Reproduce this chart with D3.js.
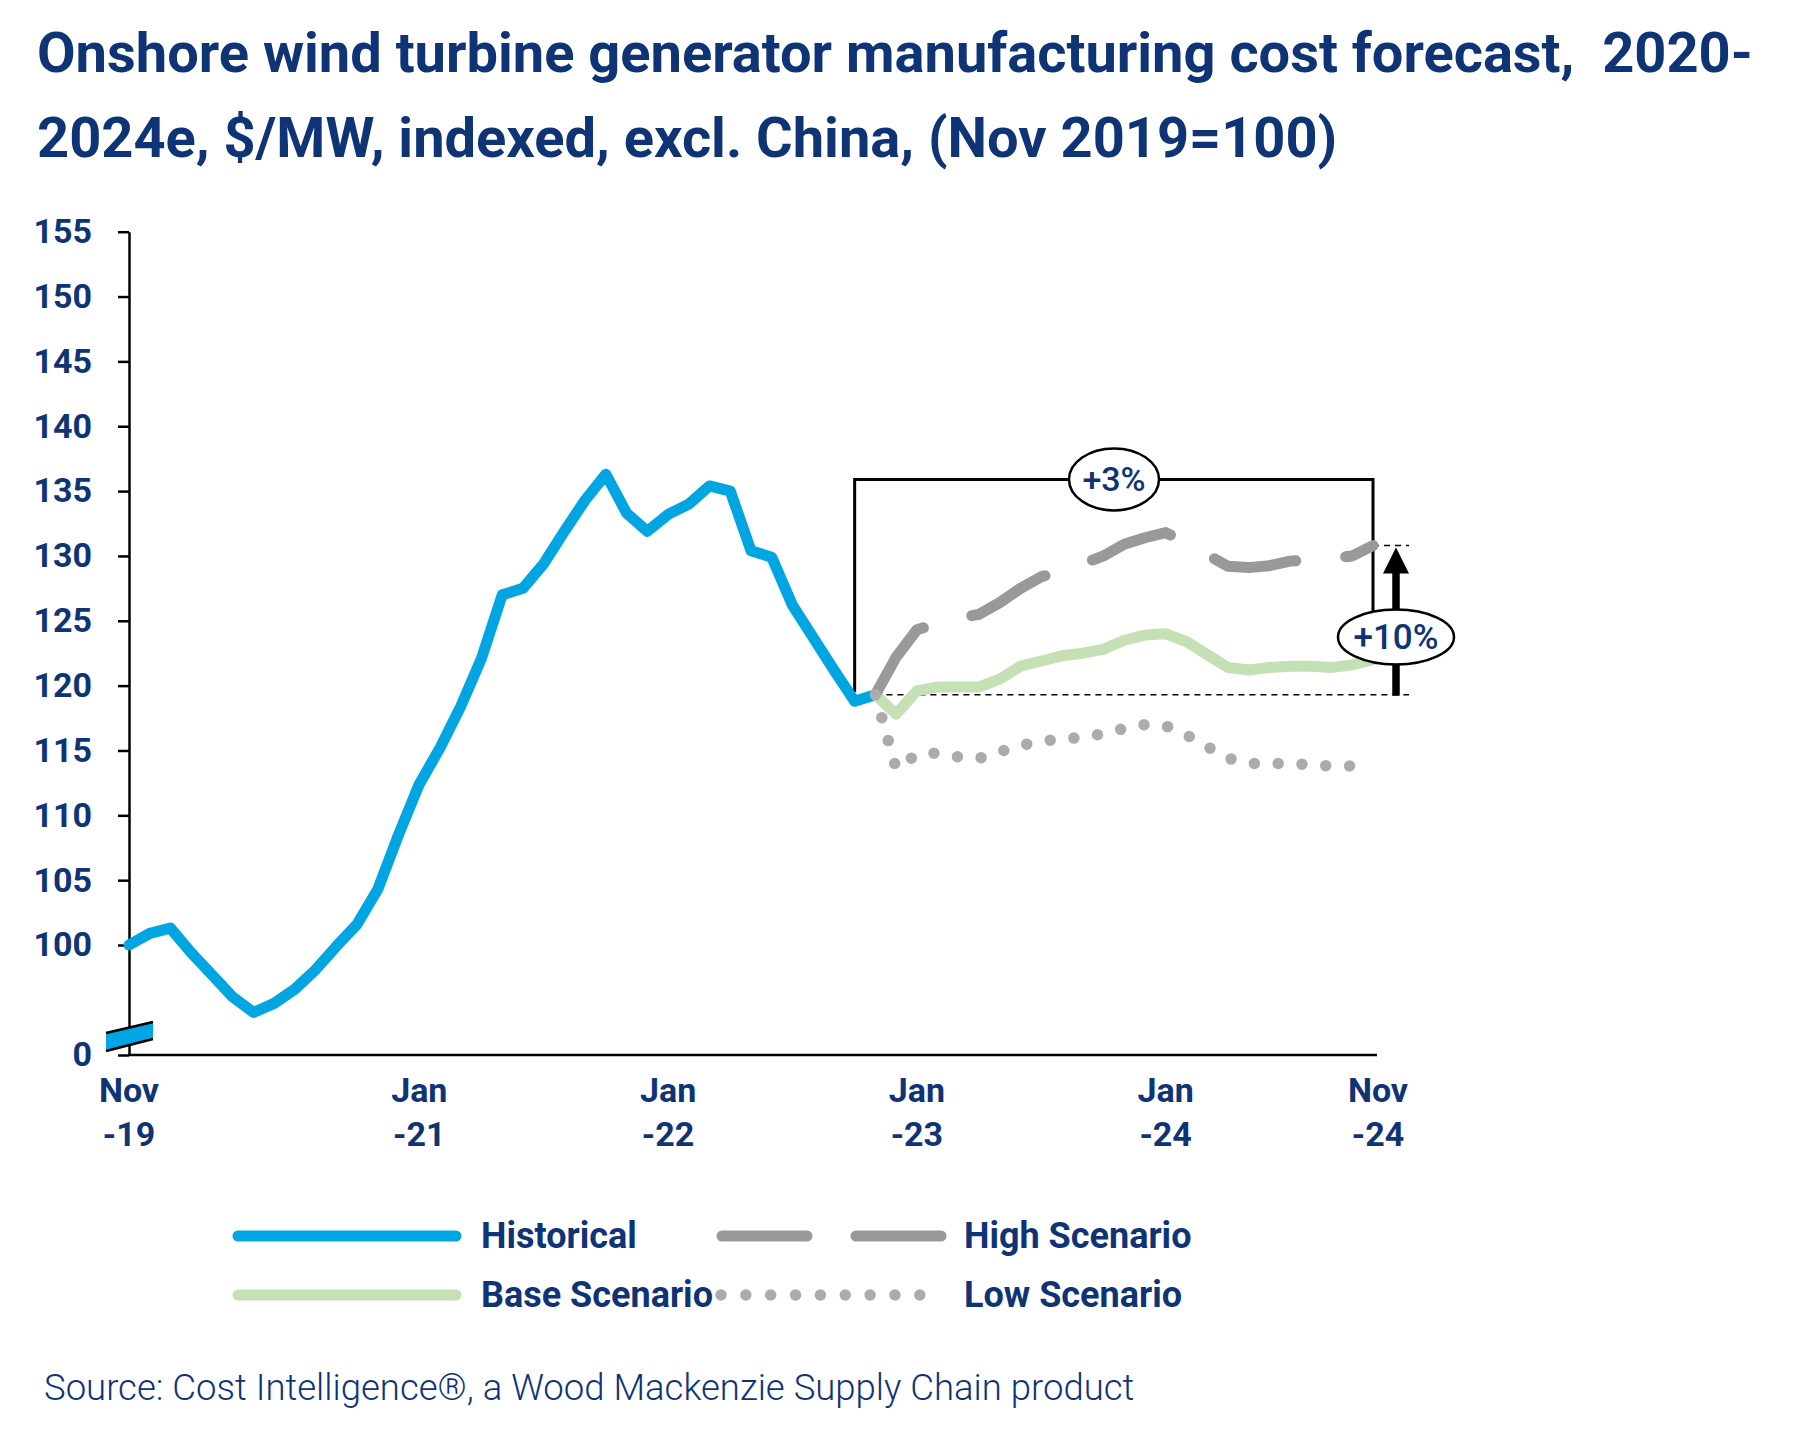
<!DOCTYPE html>
<html><head><meta charset="utf-8">
<script src="https://cdn.jsdelivr.net/npm/d3@7"></script>
<style>body{margin:0;background:#fff} svg{display:block}</style>
</head><body>
<svg id="c" width="1800" height="1434"></svg>
<script>
const titleLines = [
  "Onshore wind turbine generator manufacturing cost forecast,  2020-",
  "2024e, $/MW, indexed, excl. China, (Nov 2019=100)"
];
// monthly index, month 0 = Nov 2019
const historical = [100, 100.9, 101.3, 99.4, 97.7, 96.0, 94.8, 95.5, 96.6, 98.1, 99.9, 101.6,
  104.3, 108.5, 112.4, 115.2, 118.4, 122.1, 127.0, 127.5, 129.4, 131.9, 134.3, 136.3,
  133.3, 131.9, 133.2, 134.0, 135.4, 135.0, 130.4, 129.9, 126.2, 123.7, 121.2, 118.8, 119.3];
const forecastStart = 36; // Nov 2022
const baseScenario = [119.3, 117.8, 119.6, 119.9, 119.9, 119.9, 120.5, 121.5, 121.9, 122.3, 122.5, 122.8,
  123.5, 123.9, 124.0, 123.4, 122.4, 121.4, 121.2, 121.4, 121.5, 121.5, 121.4, 121.6, 122.0];
const highScenario = [119.3, 122.2, 124.3, 124.8, 125.2, 125.5, 126.4, 127.5, 128.4, 128.8, 129.4, 130.0,
  130.9, 131.4, 131.8, 131.0, 130.1, 129.2, 129.1, 129.25, 129.6, 129.7, 129.8, 130.0, 130.8];
const lowScenario = [119.3, 113.6, 114.7, 114.8, 114.5, 114.4, 114.9, 115.4, 115.7, 115.9, 116.0, 116.3,
  116.7, 117.0, 116.9, 116.2, 115.3, 114.4, 114.0, 114.0, 114.0, 113.9, 113.8, 113.8, 114.1];
const xTickMonths = [0, 14, 26, 38, 50, 60];
const xTickLabels = [["Nov","-19"],["Jan","-21"],["Jan","-22"],["Jan","-23"],["Jan","-24"],["Nov","-24"]];
const yTickValues = [100,105,110,115,120,125,130,135,140,145,150,155];
const yBreakLabel = "0";
const legendItems = ["Historical", "High Scenario", "Base Scenario", "Low Scenario"];
const annotationLabels = ["+3%", "+10%"];
const sourceText = "Source: Cost Intelligence®, a Wood Mackenzie Supply Chain product";

const navy = "#0f3476";
const cBlue = "#00a5e2", cBase = "#c6e0b5", cHigh = "#999999", cLow = "#ababab";
const font = "Roboto, 'Noto Sans', sans-serif";

const svg = d3.select("#c");
svg.append("rect").attr("width",1800).attr("height",1434).attr("fill","#fff");

// title
svg.append("g").selectAll("text").data(titleLines).join("text")
  .attr("x", 37).attr("y", (d,i) => 72 + i*85)
  .style("white-space","pre").attr("xml:space","preserve")
  .attr("font-family", font).attr("font-weight", 700).attr("font-size", 56)
  .attr("fill", navy).text(d => d);

const yBottomValue = 91.52; // axis break: bottom of axis shown as "0"
const x = d3.scaleLinear().domain([0, 60]).range([129, 1373]);
const y = d3.scaleLinear().domain([yBottomValue, 155]).range([1055, 231.7]);

// y axis
const yAxis = d3.axisLeft(y).tickValues([yBottomValue].concat(yTickValues))
  .tickFormat(d => d < 100 ? yBreakLabel : d).tickSize(11).tickSizeOuter(0).tickPadding(26);
const gy = svg.append("g").attr("transform", `translate(${x(0)},0)`).call(yAxis);
gy.select(".domain").attr("stroke","#000").attr("stroke-width",2.5);
gy.selectAll(".tick line").attr("stroke","#000").attr("stroke-width",2.5);
gy.selectAll(".tick text").attr("font-family", font).attr("font-weight",700)
  .attr("font-size",34).attr("fill",navy);

// x axis
const xAxis = d3.axisBottom(x).tickValues(xTickMonths).tickSize(0).tickSizeOuter(0).tickFormat("");
const gx = svg.append("g").attr("transform", `translate(0,${y(yBottomValue)})`).call(xAxis);
gx.select(".domain").attr("stroke","#000").attr("stroke-width",2.5)
  .attr("d", `M${x(0)},0H${x(60) + 4}`);
const xl = svg.append("g").selectAll("text").data(xTickMonths).join("text")
  .attr("x", d => x(d)).attr("text-anchor","middle")
  .attr("font-family", font).attr("font-weight",700).attr("font-size",34).attr("fill",navy);
xl.append("tspan").attr("x", (d,i) => x(d) + (i === xTickMonths.length-1 ? 5 : 0)).attr("y", 1102).text((d,i) => xTickLabels[i][0]);
xl.append("tspan").attr("x", (d,i) => x(d) + (i === xTickMonths.length-1 ? 5 : 0)).attr("y", 1146).text((d,i) => xTickLabels[i][1]);

// axis break symbol
const bx0 = x(0) - 23, bx1 = x(0) + 24;
svg.append("path").attr("d", `M${bx0},1033 L${bx1},1022 L${bx1},1039 L${bx0},1051 Z`)
  .attr("fill", cBlue);
svg.append("path").attr("d", `M${bx0},1033 L${bx1},1022 M${bx0},1051 L${bx1},1039`)
  .attr("stroke","#000").attr("stroke-width",2.5).attr("fill","none");

const line = d3.line().x(d => x(d[0])).y(d => y(d[1]));
const pts = (arr, off) => arr.map((v,i) => [i + off, v]);

// reference dashed lines
const hiEnd = highScenario[highScenario.length-1];
svg.append("line").attr("x1", x(forecastStart)).attr("x2", x(60) + 36)
  .attr("y1", y(historical[forecastStart])).attr("y2", y(historical[forecastStart]))
  .attr("stroke","#000").attr("stroke-width",1.6).attr("stroke-dasharray","6,5");
svg.append("line").attr("x1", x(60)).attr("x2", x(60) + 36)
  .attr("y1", y(hiEnd)).attr("y2", y(hiEnd))
  .attr("stroke","#000").attr("stroke-width",1.6).attr("stroke-dasharray","6,5");

// bracket (+3%)
const bracketTop = 135.9;
svg.append("path")
  .attr("d", `M${x(35)},${y(119.5)} L${x(35)},${y(bracketTop)} L${x(60)},${y(bracketTop)} L${x(60)},${y(baseScenario[baseScenario.length-1])}`)
  .attr("fill","none").attr("stroke","#000").attr("stroke-width",3);

// historical
svg.append("path").datum(pts(historical,0)).attr("d", line)
  .attr("fill","none").attr("stroke",cBlue).attr("stroke-width",11)
  .attr("stroke-linejoin","round").attr("stroke-linecap","round");
// base
svg.append("path").datum(pts(baseScenario,forecastStart)).attr("d", line)
  .attr("fill","none").attr("stroke",cBase).attr("stroke-width",11)
  .attr("stroke-linejoin","round").attr("stroke-linecap","round");
// high
svg.append("path").datum(pts(highScenario,forecastStart)).attr("d", line)
  .attr("fill","none").attr("stroke",cHigh).attr("stroke-width",11)
  .attr("stroke-linejoin","round").attr("stroke-linecap","round").attr("stroke-dasharray","84,50");
// low (dots spaced evenly so that one lands on the end point)
const lowPath = svg.append("path").datum(pts(lowScenario,forecastStart)).attr("d", line)
  .attr("fill","none").attr("stroke",cLow).attr("stroke-width",11.5)
  .attr("stroke-linecap","round");
const lowLen = lowPath.node().getTotalLength();
const lowGap = lowLen / Math.round(lowLen / 24);
lowPath.attr("stroke-dasharray", `0,${lowGap}`);

// arrow (+10%)
const ax = x(60) + 23;
svg.append("line").attr("x1", ax).attr("x2", ax)
  .attr("y1", y(historical[forecastStart]) + 1).attr("y2", y(hiEnd) + 24)
  .attr("stroke","#000").attr("stroke-width",7.5);
svg.append("path").attr("d", `M${ax},${y(hiEnd)+2} L${ax+13},${y(hiEnd)+28} L${ax-13},${y(hiEnd)+28} Z`)
  .attr("fill","#000");

// ellipses
const ann = [
  {cx: 1114, cy: y(bracketTop), rx: 45, ry: 31, size: 34, label: annotationLabels[0]},
  {cx: ax, cy: 637, rx: 58, ry: 27.5, size: 35, label: annotationLabels[1]}
];
const ga = svg.append("g").selectAll("g").data(ann).join("g");
ga.append("ellipse").attr("cx", d => d.cx).attr("cy", d => d.cy).attr("rx", d => d.rx).attr("ry", d => d.ry)
  .attr("fill","#fff").attr("stroke","#000").attr("stroke-width",2.5);
ga.append("text").attr("x", d => d.cx).attr("y", d => d.cy + 12).attr("text-anchor","middle")
  .attr("font-family", font).attr("font-weight",500).attr("font-size", d => d.size).attr("fill",navy)
  .text(d => d.label);

// legend
const lg = svg.append("g");
const rows = [1236, 1295];
lg.append("line").attr("x1",238).attr("x2",456).attr("y1",rows[0]).attr("y2",rows[0])
  .attr("stroke",cBlue).attr("stroke-width",11).attr("stroke-linecap","round");
lg.append("line").attr("x1",722).attr("x2",941).attr("y1",rows[0]).attr("y2",rows[0])
  .attr("stroke",cHigh).attr("stroke-width",11).attr("stroke-linecap","round").attr("stroke-dasharray","85,49");
lg.append("line").attr("x1",238).attr("x2",456).attr("y1",rows[1]).attr("y2",rows[1])
  .attr("stroke",cBase).attr("stroke-width",11).attr("stroke-linecap","round");
lg.append("line").attr("x1",721).attr("x2",920).attr("y1",rows[1]).attr("y2",rows[1])
  .attr("stroke",cLow).attr("stroke-width",11.5).attr("stroke-linecap","round").attr("stroke-dasharray","0,24.85");
const legPos = [[481, rows[0]], [964, rows[0]], [481, rows[1]], [964, rows[1]]];
lg.selectAll("text").data(legendItems).join("text")
  .attr("x", (d,i) => legPos[i][0]).attr("y", (d,i) => legPos[i][1] + 12)
  .attr("font-family", font).attr("font-weight",700).attr("font-size",36).attr("fill",navy)
  .text(d => d);

// source
svg.append("text").attr("x",44).attr("y",1400)
  .attr("font-family", font).attr("font-weight",300).attr("font-size",36.5).attr("fill",navy)
  .text(sourceText);
</script>
</body></html>
